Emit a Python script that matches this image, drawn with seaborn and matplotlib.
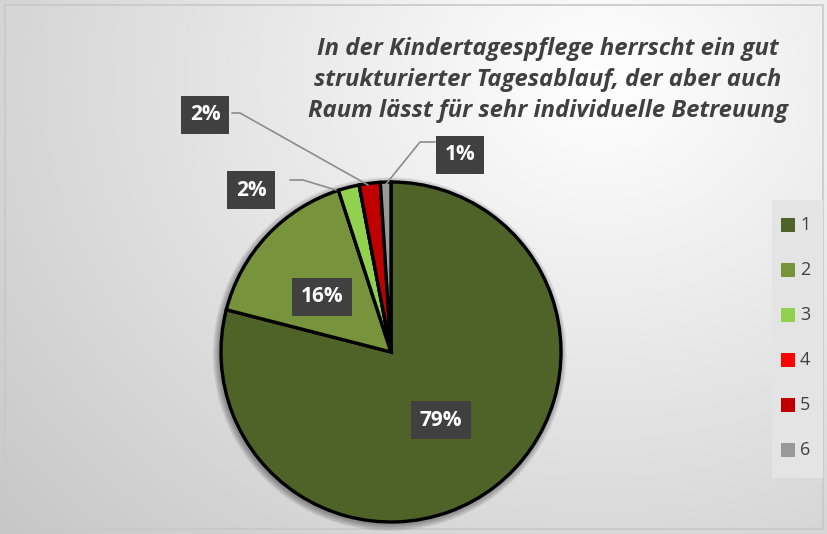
import numpy as np
import matplotlib
matplotlib.use("Agg")
import matplotlib.pyplot as plt
import seaborn as sns
from matplotlib.patches import Rectangle, Circle

sns.set_theme(style="white")
plt.rcParams['font.family'] = ['Open Sans', 'DejaVu Sans']

categories = ['1', '2', '3', '4', '5', '6']
values = [79, 16, 2, 0, 2, 1]
pct_labels = ['79%', '16%', '2%', '', '2%', '1%']
colors = ['#4F6228', '#77933C', '#92D050', '#FF0000', '#C00000', '#999999']
title = ("In der Kindertagespflege herrscht ein gut\n"
         "strukturierter Tagesablauf, der aber auch\n"
         "Raum lässt für sehr individuelle Betreuung")

W, H = 828, 534
fig = plt.figure(figsize=(W / 100, H / 100), dpi=100)

# background: radial gradient
bg = fig.add_axes([0, 0, 1, 1])
yy, xx = np.mgrid[0:H, 0:W]
d = np.sqrt(((xx - 600) / 620.0) ** 2 + ((yy - 80) / 520.0) ** 2)
shade = np.clip(1.0 - 0.17 * d, 0.78, 1.0)
bg.imshow(np.dstack([shade] * 3), extent=[0, W, H, 0], aspect='auto')
bg.add_patch(Rectangle((5, 5), W - 10, H - 10, fill=False, ec='#C8C8C8', lw=1.2))
bg.set_xlim(0, W)
bg.set_ylim(H, 0)
bg.axis('off')
bg.set_zorder(0)

# pie
cx, cy, r = 391, 352, 170
pad = 1.12
ax = fig.add_axes([(cx - r * pad) / W, (H - cy - r * pad) / H, 2 * r * pad / W, 2 * r * pad / H])
for k in range(5):
    ax.add_patch(Circle((-0.008, -0.012), 1.0 + 0.008 * (k + 1), color='black',
                        alpha=0.08, lw=0, zorder=0))
wedges, _ = ax.pie(values, colors=colors, startangle=90, counterclock=False,
                   radius=1, wedgeprops=dict(edgecolor='black', linewidth=2.4))
ax.set_xlim(-pad, pad)
ax.set_ylim(-pad, pad)
ax.set_aspect('equal')
ax.axis('off')
ax.set_zorder(1)

# overlay for text, data labels, leader lines and legend
lab = fig.add_axes([0, 0, 1, 1], facecolor='none')
lab.set_xlim(0, W)
lab.set_ylim(H, 0)
lab.axis('off')
lab.set_zorder(2)

lab.text(548, 80, title, ha='center', va='center', fontsize=17.2, fontweight='bold',
         fontstyle='italic', color='#404040', linespacing=1.38)

box = dict(boxstyle='square,pad=0.4', fc='#404040', ec='none')
label_pos = {0: (441, 420), 1: (322, 297), 2: (251, 190), 4: (205, 115), 5: (460, 155)}
leaders = {2: [(290, 180), (303, 180), (336, 190)],
           4: [(232, 113), (240, 113), (368, 185)],
           5: [(435, 142), (420, 142), (386, 184)]}
for i, (x, y) in label_pos.items():
    if i in leaders:
        pts = np.array(leaders[i])
        lab.plot(pts[:, 0], pts[:, 1], color='#8C8C8C', lw=1.2)
    lab.text(x, y, pct_labels[i], ha='center', va='center', fontsize=15,
             fontweight='bold', color='white', bbox=box)

# legend
lab.add_patch(Rectangle((772, 200), 51, 278, fc='#E4E4E4', ec='none'))
for k, (c, name) in enumerate(zip(colors, categories)):
    y = 225 + k * 45
    lab.add_patch(Rectangle((781, y - 7), 14, 14, fc=c, ec='none'))
    lab.text(800, y, name, ha='left', va='center', fontsize=13, color='#404040')

fig.savefig('out.png', dpi=100)
